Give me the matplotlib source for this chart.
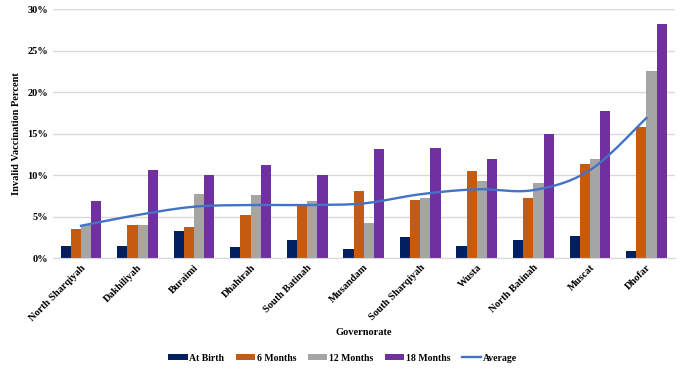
import numpy as np
import matplotlib.pyplot as plt
from matplotlib.ticker import PercentFormatter

plt.rcParams['font.family'] = ['Liberation Serif', 'DejaVu Serif']
plt.rcParams['font.weight'] = 'bold'

governorates = ["North Sharqiyah", "Dakhiliyah", "Buraimi", "Dhahirah", "South Batinah",
                "Musandam", "South Sharqiyah", "Wusta", "North Batinah", "Muscat", "Dhofar"]
at_birth = [1.5, 1.5, 3.3, 1.4, 2.2, 1.1, 2.6, 1.5, 2.2, 2.7, 0.9]
months_6 = [3.5, 4.0, 3.8, 5.2, 6.3, 8.1, 7.0, 10.5, 7.2, 11.4, 15.8]
months_12 = [4.0, 4.0, 7.7, 7.6, 6.9, 4.2, 7.3, 9.3, 9.1, 11.9, 22.6]
months_18 = [6.9, 10.6, 10.0, 11.2, 10.0, 13.1, 13.3, 11.9, 15.0, 17.7, 28.2]
average = [3.9, 5.2, 6.2, 6.4, 6.4, 6.6, 7.7, 8.3, 8.2, 10.6, 16.9]

series = [("At Birth", at_birth, "#002060"),
          ("6 Months", months_6, "#C55A11"),
          ("12 Months", months_12, "#A5A5A5"),
          ("18 Months", months_18, "#7030A0")]


def smooth(xs, ys, n=30):
    # bezier through points like Excel's smoothed line
    xs = np.asarray(xs, float)
    ys = np.asarray(ys, float)
    px, py = [], []
    for i in range(len(xs) - 1):
        i0 = max(i - 1, 0)
        i3 = min(i + 2, len(xs) - 1)
        c1x = xs[i] + (xs[i + 1] - xs[i0]) / 6
        c1y = ys[i] + (ys[i + 1] - ys[i0]) / 6
        c2x = xs[i + 1] - (xs[i3] - xs[i]) / 6
        c2y = ys[i + 1] - (ys[i3] - ys[i]) / 6
        t = np.linspace(0, 1, n)
        px.extend((1 - t) ** 3 * xs[i] + 3 * (1 - t) ** 2 * t * c1x + 3 * (1 - t) * t ** 2 * c2x + t ** 3 * xs[i + 1])
        py.extend((1 - t) ** 3 * ys[i] + 3 * (1 - t) ** 2 * t * c1y + 3 * (1 - t) * t ** 2 * c2y + t ** 3 * ys[i + 1])
    return px, py


fig = plt.figure(figsize=(6.85, 3.73), dpi=100)
ax = fig.add_axes([0.077, 0.308, 0.908, 0.667])

x = np.arange(len(governorates))
w = 0.18
for k, (name, vals, col) in enumerate(series):
    ax.bar(x + (k - 1.5) * w, vals, width=w, color=col, label=name, zorder=2)

sx, sy = smooth(x, average)
ax.plot(sx, sy, color="#4472C4", lw=1.7, label="Average", zorder=3)

ax.set_xlim(-0.5, len(governorates) - 0.5)
ax.set_ylim(0, 30)
ax.set_yticks(np.arange(0, 31, 5))
ax.yaxis.set_major_formatter(PercentFormatter(decimals=0))
ax.grid(axis='y', color='#D9D9D9', lw=1, zorder=0)
for s in ['top', 'right', 'left']:
    ax.spines[s].set_visible(False)
ax.spines['bottom'].set_color('#D9D9D9')
ax.tick_params(length=0, labelsize=7.5)
ax.set_xticks(x)
ax.set_xticklabels(governorates, rotation=45, ha='right', rotation_mode='anchor', fontsize=7.5)
ax.set_ylabel("Invalid Vaccination Percent", fontsize=7.5, fontweight='bold')
ax.set_xlabel("Governorate", fontsize=7.5, fontweight='bold', labelpad=4)

handles, labels = ax.get_legend_handles_labels()
order = [1, 2, 3, 4, 0]
fig.legend([handles[i] for i in order], [labels[i] for i in order],
           loc='center', bbox_to_anchor=(0.5, 0.04), ncol=5, frameon=False,
           fontsize=7, handlelength=2.0, handleheight=0.5, columnspacing=1.2, handletextpad=0.15)

fig.savefig("out.png", dpi=100)
